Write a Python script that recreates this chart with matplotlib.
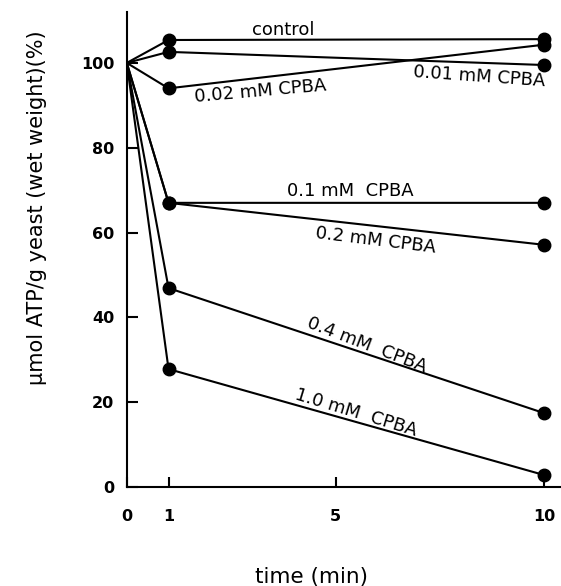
"""ATP content of yeast after CPBA treatment."""

import matplotlib.pyplot as plt

plt.rcParams['font.family'] = ['DejaVu Sans']

time_min = [0, 1, 10]
series = {
    'control': [100, 105.4, 105.6],
    '0.01 mM CPBA': [100, 102.6, 99.5],
    '0.02 mM CPBA': [100, 94.0, 104.3],
    '0.1 mM CPBA': [100, 67.0, 67.0],
    '0.2 mM CPBA': [100, 67.0, 57.1],
    '0.4 mM CPBA': [100, 46.9, 17.4],
    '1.0 mM CPBA': [100, 27.8, 2.8],
}
x_ticks = [0, 1, 5, 10]
y_ticks = [0, 20, 40, 60, 80, 100]

# label text, x, y, rotation
labels = [
    ('control', 3.75, 107.8, 0),
    ('0.02 mM CPBA', 3.2, 93.2, 5),
    ('0.01 mM CPBA', 8.45, 96.8, -4),
    ('0.1 mM  CPBA', 5.35, 69.9, 0),
    ('0.2 mM CPBA', 5.95, 58.2, -7),
    ('0.4 mM  CPBA', 5.75, 33.5, -21),
    ('1.0 mM  CPBA', 5.5, 17.5, -17),
]

fig = plt.figure(figsize=(5.61, 5.86), dpi=100)
ax = fig.add_axes([0.226, 0.169, 0.774, 0.8105])

for name, vals in series.items():
    ax.plot(time_min, vals, color='black', lw=1.5)
    ax.plot(time_min[1:], vals[1:], 'o', color='black', ms=9)

for text, x, y, rot in labels:
    ax.text(x, y, text, ha='center', va='center', rotation=rot,
            rotation_mode='anchor', fontsize=13)

ax.set_xlim(0, 10.4)
ax.set_ylim(0, 112)
ax.set_xticks(x_ticks)
ax.set_yticks(y_ticks)
ax.spines['top'].set_visible(False)
ax.spines['right'].set_visible(False)
ax.spines['left'].set_linewidth(1.5)
ax.spines['bottom'].set_linewidth(1.5)
ax.tick_params(axis='x', direction='in', length=7, width=1.5, pad=16,
               labelsize=11.5)
ax.tick_params(axis='y', direction='in', length=8, width=1.5, pad=9,
               labelsize=11.5)
for lab in ax.get_xticklabels() + ax.get_yticklabels():
    lab.set_fontweight('bold')

fig.text(0.555, 0.016, 'time (min)', ha='center', va='center',
         fontsize=15.5)
fig.text(0.066, 0.645, 'μmol ATP/g yeast (wet weight)(%)', ha='center',
         va='center', rotation=90, fontsize=15)

fig.savefig('out.png', dpi=100)
